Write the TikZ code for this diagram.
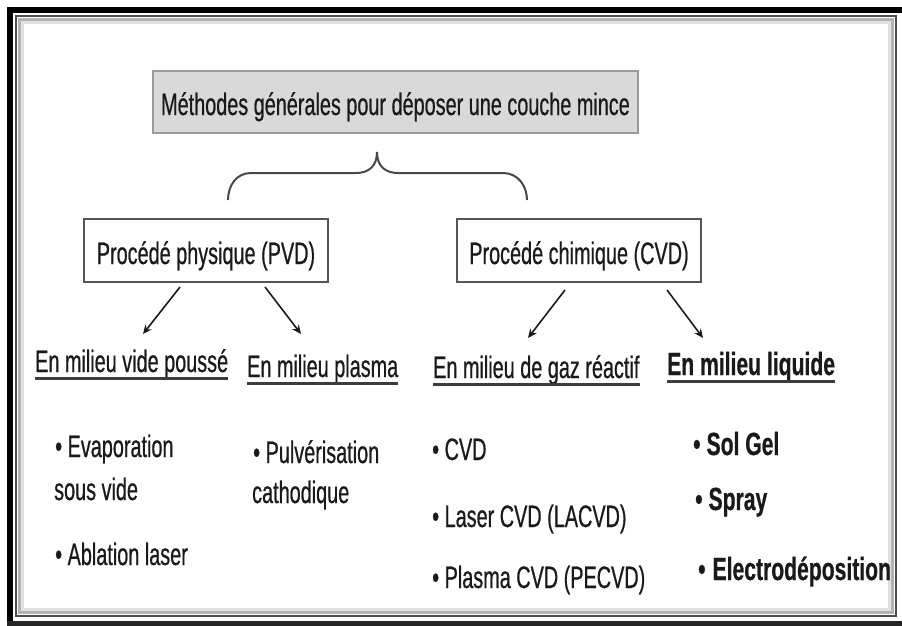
\documentclass[tikz,border=0pt]{standalone}
\usepackage{fontspec}
\setmainfont[FakeStretch=0.64, FakeBold=0.6, BoldFeatures={FakeStretch=0.66}]{Liberation Sans}
\usetikzlibrary{arrows.meta}
\definecolor{ink}{HTML}{1A1A1A}
\definecolor{titlefill}{HTML}{D9D9D9}
\definecolor{titleedge}{HTML}{9A9A9A}
\definecolor{boxedge}{HTML}{555555}
\begin{document}
\begin{tikzpicture}[x=1pt,y=-1pt,
  txt/.style={inner sep=0pt, text=ink, font=\fontsize{31}{36}\selectfont},
  btxt/.style={inner sep=0pt, text=ink, font=\fontsize{32}{37}\selectfont\bfseries},
  topbox/.style={draw=titleedge, line width=1.5pt, fill=titlefill, inner sep=0pt,
    minimum width=485pt, minimum height=62pt, text height=26pt, text depth=0pt,
    text=ink, font=\fontsize{31}{36}\selectfont},
  procbox/.style={draw=boxedge, line width=2pt, fill=white, inner sep=0pt,
    minimum width=244pt, minimum height=63pt, text height=27pt, text depth=0pt,
    text=ink, font=\fontsize{31}{36}\selectfont},
  ul/.style={draw=ink!85, line width=2.5pt},
  arr/.style={draw=ink, line width=1.6pt, -{Stealth[length=9pt,width=8pt]}},
  brace/.style={draw=ink!80, line width=2pt}]
\useasboundingbox (0,0) rectangle (902,626);
\fill[white] (0,0) rectangle (902,626);
% frame
\fill[black] (7,7) rectangle (13,626);
\fill[black] (7,7) rectangle (902,13);
\fill[black!85] (7,621) rectangle (902,626);
\draw[black!70, line width=2pt] (16,16) rectangle (896,616);
\draw[black!30, line width=3pt] (19.5,19.5) rectangle (892.5,612.5);
\draw[black!12, line width=3pt] (22.5,22.5) rectangle (889.5,609.5);
% boxes
\node[topbox] (title) at (395.5,102) {Méthodes générales pour déposer une couche mince};
\node[procbox] (pvd) at (206,250.5) {Procédé physique (PVD)};
\node[procbox] (cvd) at (579,250.5) {Procédé chimique (CVD)};
% brace
\draw[brace] (228,200) .. controls (228,186) and (236,173) .. (251,173) -- (356,173)
  .. controls (369,173) and (377,166) .. (377,152)
  .. controls (377,166) and (385,173) .. (398,173) -- (503,173)
  .. controls (518,173) and (527,186) .. (527,200);
% headings
\node[txt, anchor=base west] (h1) at (35,372) {En milieu vide poussé};
\node[txt, anchor=base west] (h2) at (247,377) {En milieu plasma};
\node[txt, anchor=base west] (h3) at (433,378) {En milieu de gaz réactif};
\node[btxt, anchor=base west] (h4) at (667,375) {En milieu liquide};
\foreach \h in {h1,h2,h3,h4}
  \draw[ul] ([yshift=-6.5pt]\h.base west) -- ([yshift=-6.5pt]\h.base east);
% arrows
\coordinate (a1s) at (180,287); \coordinate (a1e) at (143,334);
\coordinate (a2s) at (265,287); \coordinate (a2e) at (301,334);
\coordinate (a3s) at (565,290); \coordinate (a3e) at (528,338);
\coordinate (a4s) at (667,290); \coordinate (a4e) at (703,338);
\draw[arr] (a1s) -- (a1e);
\draw[arr] (a2s) -- (a2e);
\draw[arr] (a3s) -- (a3e);
\draw[arr] (a4s) -- (a4e);
% items
\node[txt, anchor=base west] (i1) at (55,457) {• Evaporation};
\node[txt, anchor=base west] (i1b) at (54,500) {sous vide};
\node[txt, anchor=base west] (i2) at (55,565) {• Ablation laser};
\node[txt, anchor=base west] (i3) at (253,463) {• Pulvérisation};
\node[txt, anchor=base west] (i3b) at (252,503) {cathodique};
\node[txt, anchor=base west] (i4) at (432,460) {• CVD};
\node[txt, anchor=base west] (i5) at (432,527) {• Laser CVD (LACVD)};
\node[txt, anchor=base west] (i6) at (432,588) {• Plasma CVD (PECVD)};
\node[btxt, anchor=base west] (i7) at (693,455) {•\hspace{6pt}Sol Gel};
\node[btxt, anchor=base west] (i8) at (695,510) {•\hspace{6pt}Spray};
\node[btxt, anchor=base west] (i9) at (698,580) {•\hspace{7pt}Electrodéposition};
\end{tikzpicture}
\end{document}
